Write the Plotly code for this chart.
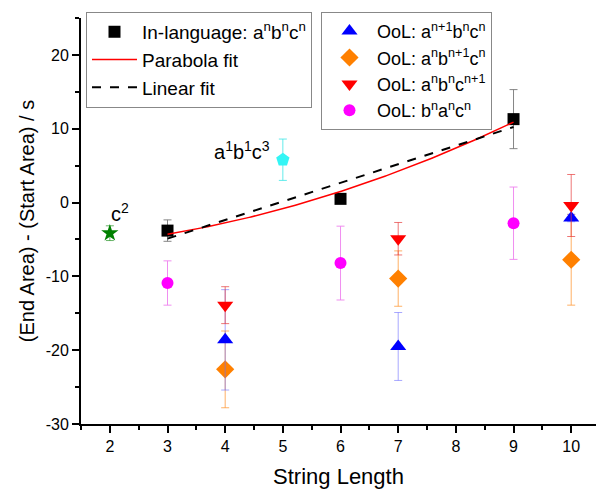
import numpy as np
import plotly.graph_objects as go

# ---- data ----
in_x = [3, 6, 9]
in_y = [-3.8, 0.5, 11.3]
in_err = [1.45, 0.3, 4.0]

ool_a_x = [4, 7, 10]
ool_a_y = [-18.6, -19.5, -2.1]
ool_a_err = [6.8, 4.6, 0.5]

ool_b_x = [4, 7, 10]
ool_b_y = [-22.6, -10.3, -7.75]
ool_b_err = [5.2, 3.75, 6.15]

ool_c_x = [4, 7, 10]
ool_c_y = [-13.9, -4.9, -0.4]
ool_c_err = [2.5, 2.2, 4.2]

ool_ba_x = [3, 6, 9]
ool_ba_y = [-10.9, -8.2, -2.8]
ool_ba_err = [3.0, 5.0, 4.9]

c2_x = [2]
c2_y = [-4.15]
c2_err = [1.0]

a1b1c3_x = [5]
a1b1c3_y = [5.8]
a1b1c3_err = [2.8]

# fit coefficients (highest power first)
parabola_coef = [0.2, 0.133, -6.5]
linear_coef = [2.52, -12.45]
fit_range = [3, 9]

x_ticks = [2, 3, 4, 5, 6, 7, 8, 9, 10]
x_minor = [1.5, 2.5, 3.5, 4.5, 5.5, 6.5, 7.5, 8.5, 9.5]
y_ticks = [-30, -20, -10, 0, 10, 20]
y_minor = [-25, -15, -5, 5, 15, 25]

FONT = "Liberation Sans, Arial, sans-serif"

xf = np.linspace(fit_range[0], fit_range[1], 200)
par_y = np.polyval(parabola_coef, xf)
lin_y = np.polyval(linear_coef, xf)

fig = go.Figure()


def err(vals, color):
    return dict(type="data", array=vals, visible=True, color=color,
                thickness=1, width=4)


fig.add_trace(go.Scatter(
    x=ool_ba_x, y=ool_ba_y, mode="markers", name="OoL: b<sup>n</sup>a<sup>n</sup>c<sup>n</sup>",
    marker=dict(symbol="circle", size=12, color="#FF00FF"),
    error_y=err(ool_ba_err, "rgba(238,130,238,0.9)"), legend="legend2", legendrank=4))
fig.add_trace(go.Scatter(
    x=ool_b_x, y=ool_b_y, mode="markers", name="OoL: a<sup>n</sup>b<sup>n+1</sup>c<sup>n</sup>",
    marker=dict(symbol="diamond", size=14, color="#FF8000"),
    error_y=err(ool_b_err, "rgba(255,150,50,0.75)"), legend="legend2", legendrank=2))
fig.add_trace(go.Scatter(
    x=ool_a_x, y=ool_a_y, mode="markers", name="OoL: a<sup>n+1</sup>b<sup>n</sup>c<sup>n</sup>",
    marker=dict(symbol="triangle-up", size=14, color="#0000FF"),
    error_y=err(ool_a_err, "rgba(110,110,255,0.6)"), legend="legend2", legendrank=1))
fig.add_trace(go.Scatter(
    x=ool_c_x, y=ool_c_y, mode="markers", name="OoL: a<sup>n</sup>b<sup>n</sup>c<sup>n+1</sup>",
    marker=dict(symbol="triangle-down", size=14, color="#FF0000"),
    error_y=err(ool_c_err, "rgba(230,60,60,0.7)"), legend="legend2", legendrank=3))

fig.add_trace(go.Scatter(
    x=c2_x, y=c2_y, mode="markers", showlegend=False,
    marker=dict(symbol="star", size=13, color="#008000"),
    error_y=err(c2_err, "rgba(0,128,0,0.6)")))
fig.add_trace(go.Scatter(
    x=a1b1c3_x, y=a1b1c3_y, mode="markers", showlegend=False,
    marker=dict(symbol="pentagon", size=14, color="#33F5F5"),
    error_y=err(a1b1c3_err, "rgba(60,230,230,0.8)")))

fig.add_trace(go.Scatter(
    x=in_x, y=in_y, mode="markers", name="In-language: a<sup>n</sup>b<sup>n</sup>c<sup>n</sup>",
    marker=dict(symbol="square", size=12, color="#000000"),
    error_y=err(in_err, "rgba(120,120,120,0.9)"), legend="legend", legendrank=1))
fig.add_trace(go.Scatter(
    x=xf, y=par_y, mode="lines", name="Parabola fit",
    line=dict(color="#FF0000", width=1.5), legend="legend", legendrank=2))
fig.add_trace(go.Scatter(
    x=xf, y=lin_y, mode="lines", name="Linear fit",
    line=dict(color="#000000", width=2, dash="dash"), legend="legend", legendrank=3))

fig.add_annotation(x=2.17, y=-1.4, text="c<sup>2</sup>", showarrow=False,
                   font=dict(size=20, color="black", family=FONT))
fig.add_annotation(x=4.3, y=7.1, text="a<sup>1</sup>b<sup>1</sup>c<sup>3</sup>", showarrow=False,
                   font=dict(size=20, color="black", family=FONT))

axis_common = dict(showline=True, linewidth=2, linecolor="black", showgrid=False,
                   zeroline=False, ticks="outside", ticklen=7, tickwidth=2,
                   tickcolor="black", automargin=False,
                   tickfont=dict(size=16, color="black", family=FONT))

legend_common = dict(xanchor="left", yanchor="top",
                     bgcolor="rgba(255,255,255,0.9)", bordercolor="#888888", borderwidth=1,
                     tracegroupgap=0, itemwidth=45)

fig.update_layout(
    width=596, height=493,
    margin=dict(l=81, r=0, t=18, b=69),
    plot_bgcolor="white", paper_bgcolor="white",
    font=dict(family=FONT, color="black"),
    xaxis=dict(range=[1.5, 10.43], tickvals=x_ticks, ticktext=[str(v) for v in x_ticks],
               title=dict(text="String Length", font=dict(size=22, family=FONT), standoff=14),
               minor=dict(ticks="outside", ticklen=4, tickwidth=2, tickcolor="black",
                          tickvals=x_minor),
               **axis_common),
    yaxis=dict(range=[-30, 25], tickvals=y_ticks, ticktext=[str(v) for v in y_ticks],
               title=dict(text="(End Area) - (Start Area) / s", font=dict(size=20, family=FONT),
                          standoff=6),
               minor=dict(ticks="outside", ticklen=4, tickwidth=2, tickcolor="black",
                          tickvals=y_minor),
               **axis_common),
    legend=dict(x=0.0097, y=1.015, font=dict(size=19, family=FONT, color="black"),
                **legend_common),
    legend2=dict(x=0.466, y=1.015, font=dict(size=18, family=FONT, color="black"),
                 **legend_common),
)

fig.write_html("out.html", config={"displayModeBar": False},
               post_script="document.body.style.margin='0';document.body.style.overflow='hidden';")
